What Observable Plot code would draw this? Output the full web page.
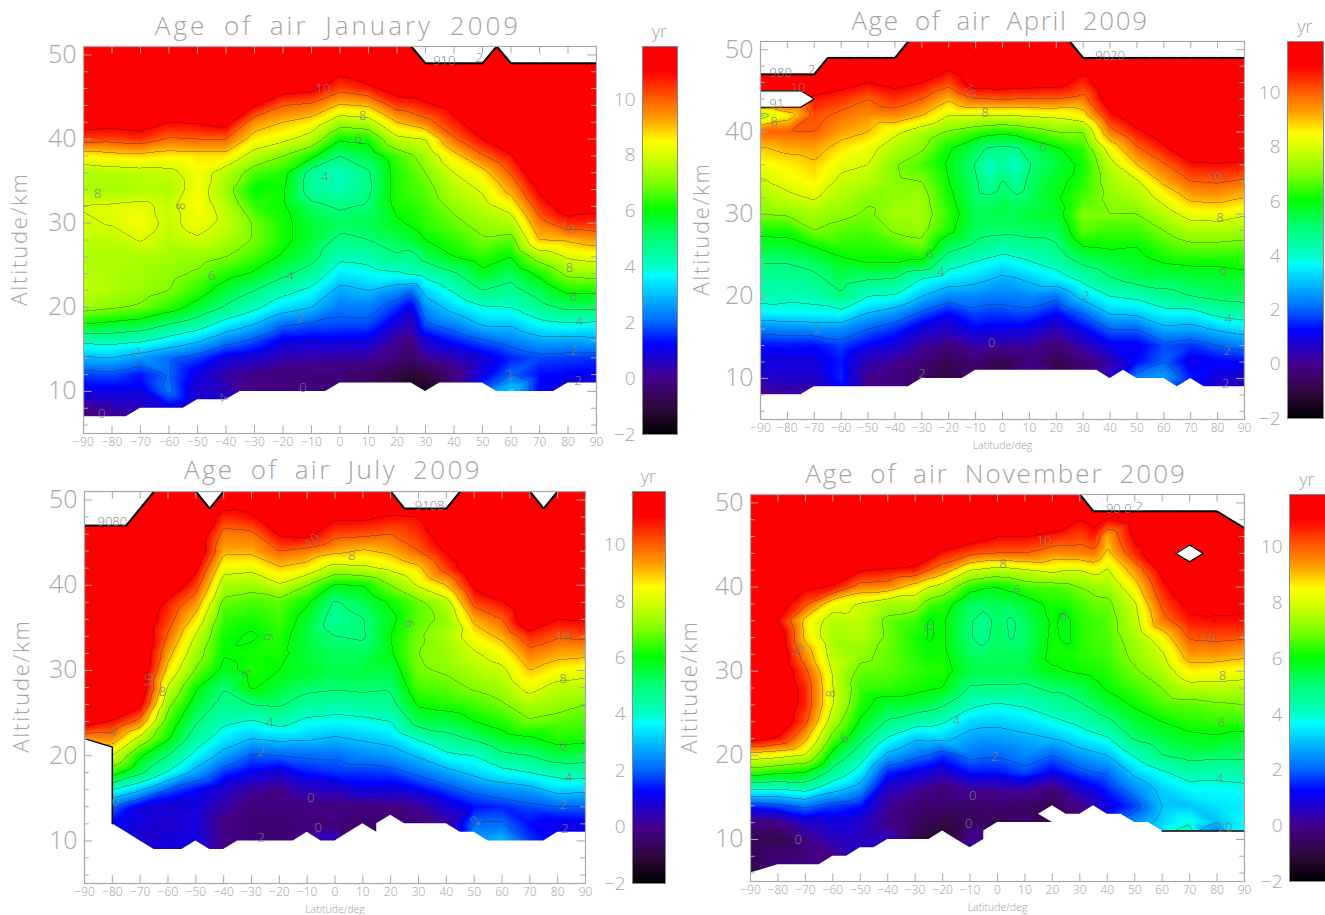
<!DOCTYPE html>
<html><head><meta charset="utf-8">
<script src="https://cdn.jsdelivr.net/npm/d3@7"></script>
<script src="https://cdn.jsdelivr.net/npm/@observablehq/plot@0.6"></script>
<style>
html,body{margin:0;padding:0;background:#fff;}
#page{position:relative;width:1325px;height:915px;overflow:hidden;}
.chart{position:absolute;}
.title{position:absolute;font-family:"Open Sans",sans-serif;font-weight:300;color:#a4a4a4;font-size:26px;word-spacing:7px;white-space:nowrap;transform:translateX(-50%);line-height:30px;}
</style></head><body><div id="page"></div>
<script>
const latitudes=[-90,-80,-70,-60,-50,-40,-30,-20,-10,0,10,20,30,40,50,60,70,80,90];
const altitudes=[50,48,46,44,42,40,38,36,34,32,30,28,26,24,22,20,18,16,14,12,10,8,6];
const lats5=[-90,-85,-80,-75,-70,-65,-60,-55,-50,-45,-40,-35,-30,-25,-20,-15,-10,-5,0,5,10,15,20,25,30,35,40,45,50,55,60,65,70,75,80,85,90];
const latTicks=[-90,-80,-70,-60,-50,-40,-30,-20,-10,0,10,20,30,40,50,60,70,80,90];
const altLabels=[10,20,30,40,50];
const altMinor=[6,8,12,14,16,18,22,24,26,28,32,34,36,38,42,44,46,48];
const barTicks=[-2,0,2,4,6,8,10];
const colorDomain=[-2,-1,0,1.25,2,3.7,4,5.1,6.05,7,8,8.5,9.3,10,11,11.9];
const colorRange=["#000000","#30083f","#46008c","#0000ff","#0064ff","#00ffff","#00ffc8","#00ff70","#00ff00","#80ff00","#d8ff00","#ffff00","#ffa000","#ff6000","#ff0000","#ff0000"];
const contourLevels=[-1,0,1,2,3,4,5,6,7,8,9,10,11];

const janAge=[
[12,12,12,12,11.5,10.4,8.5,7.5,7.5,8.05,7.9,7.7,7.5,7.65,7.75,7.3,6,4.2,2.9,1.7,1,0,-0.5],
[12,12,12,12,11.4,10.3,8.7,7.6,7.4,8.1,8.05,7.7,7.5,7.5,7.5,7.1,5.8,4.3,3,1.8,1.1,0.3,0],
[12,12,12,12,11.6,10.5,8.8,7.7,7.55,8.2,8.4,8.05,7.5,7.4,7.3,6.9,5.6,4.1,2.6,1.4,1,0.5,0],
[12,12,12,12,11,9.9,8.6,7.8,7.5,7.8,7.8,7.6,7.4,7.2,7,6.4,5,3.6,2.1,2.05,2.2,1,0.5],
[12,12,12,12,11.1,10,8.7,8.4,8.4,8.5,8.3,7.9,7.3,6.9,6.4,5.7,4.5,3.1,1.7,1,0.7,0.5,0.5],
[12,12,12,12,11.4,10,8.7,7.6,7.3,7.6,7.8,7.5,7,6.3,5.6,4.9,3.6,2.3,1,0.3,0.5,1,1],
[12,12,12,11.1,9.5,8.6,7.6,6.6,6,6.4,6.9,6.9,6.5,5.9,5,4.2,3,1.8,0.8,0,-0.2,0,0],
[12,12,11.5,10,9,8.2,7,6.3,6.1,6.1,6.2,6.2,5.9,5.2,4.3,3.4,2.1,1.1,0.4,-0.2,-0.2,0,0],
[12,12,11.3,9.8,8.6,7.6,6.2,4.6,4.6,5.2,5.6,5.6,5.3,4.6,3.8,3,1.9,1,0.3,-0.3,-0.2,0,0],
[12,11.2,10.3,8.9,7.4,6.1,5,4.1,4.3,4.9,5.3,4.8,4.2,3.5,2.75,2.25,1.8,1.1,0.2,-0.3,-0.4,0,0],
[12,12,10.7,9.1,7.6,6.2,5.5,4.9,4.85,5.1,5.4,5,4.3,3.7,3,2.3,1.8,1,0.2,-0.5,-0.6,0,0],
[12,12,11.5,10.4,9,7.8,6.5,6.3,6.3,6.2,5.9,5.4,4.9,3.9,2.5,1.6,0.85,0.1,-0.2,-0.9,-1,0,0],
[12,12,11.7,10.8,9.7,8,7.4,7,6.7,6.5,6.4,6,5.3,4.3,3.3,2.5,1.9,0.8,0.1,-1,-1.5,0,0],
[12,12,12,11.4,10.7,9.9,8.7,8,7.6,7.2,6.8,6.4,6,4.9,4.1,3.3,2.4,1.4,0.5,-0.2,0,0,0],
[12,12,12,12,11.8,11,9.9,8.7,8.1,7.7,7.3,6.9,6.4,5.8,5,3.9,3.1,1.9,0.9,1,2,2,2],
[12,12,12,12,12,12,10.9,10.1,9.3,8.4,7.5,6.7,6,5.3,4.7,4,3.1,2.3,1.5,2,3.4,3.4,3.4],
[12,12,12,12,12,12,12,12,11.2,10.5,9.7,9,7.4,6.2,5.4,4.7,3.7,2.7,1.8,1.3,1.2,1,1],
[12,12,12,12,12,12,12,12,12,11.6,10.6,9.1,8.1,7.2,6.2,5.2,3.9,2.7,1.7,1.2,0.5,0,0],
[12,12,12,12,12,12,12,12,12,11.3,10.6,9.4,8.3,7.3,6.2,5.2,3.8,2.8,1.6,1.2,1,1,1]];
const janExtraLat=[25];
const janExtra=[[12,12,11.6,10.5,9.3,7.9,6.9,6.6,6.5,6.3,6.1,5.6,4.7,4.1,2.2,1.05,0.5,-0.1,-0.5,-1.2,-1.5,0,0]];
const aprAge=[
[12,12,11.8,11,7.5,10,8.9,8.4,7.9,7.4,7,6.2,5.6,5,4.6,4.3,3.6,2.3,1.3,0.9,0.6,0,-0.5],
[12,12,11.7,11,8.5,10,9.2,8.6,8.3,7.8,7.1,6.2,5.7,5,4.6,4.2,3.7,2.4,1.4,0.9,0.7,0.2,0],
[12,12,11.8,10.8,10.2,10,9.3,8.9,8.6,8.1,7.4,7,6,5.2,4.8,4.3,3.7,2.5,1.3,0.9,0.7,0,0],
[12,12,11.4,10.5,9.8,9.3,8.7,8.2,7.8,7.5,7.2,6.7,6.3,5.8,5.3,4.9,3.8,2.5,1.7,1.4,1.5,1,1],
[12,12,11,10,9.5,9,8.3,8,7.6,7.1,6.9,6.6,6.3,6,5,4,3,2,1.2,0.4,0,0,0],
[12,12,11.3,10.5,9.6,8.2,7.5,7.05,7.1,7.2,7.4,7.1,6.5,6,4.9,3.9,2.6,1.6,0.9,0.1,-0.2,0,0],
[12,12,11,10,9,7.5,7.1,6.6,7,7.3,7.4,7.2,6.8,5.8,3.9,3,1.9,0.9,0.2,-0.3,-0.5,0,0],
[12,11.2,10.3,9.1,8,6.9,6.1,5.9,6,6.2,6.4,6.2,5.3,4.3,3.4,2.4,1.3,0.7,-0.1,-0.7,-1,0,0],
[12,12,11.6,10,8,6.5,5.3,4.95,5.1,5.2,5.4,5.3,4.8,3.9,3.2,2.4,1.8,1.2,0.3,-0.4,-0.3,0,0],
[12,12,11.6,10.1,8,6.2,4.85,4.6,5.05,5.3,5.4,5.2,4.4,3.5,2.8,2.3,1.7,1.1,0.2,-0.8,-1,0,0],
[12,12,11.5,10,8.1,6.6,5.3,4.95,5.2,5.3,5.6,5.3,4.6,3.9,3.1,2.4,1.8,1,0.2,-0.2,0.8,0,0],
[12,12,11.4,10,8.2,7,5.9,5.5,5.8,5.9,5.7,5.3,4.9,4.3,3.5,2.2,1.3,0.5,-0.2,-0.8,-0.9,0,0],
[12,11.4,10.6,9.7,8.6,7,6.4,6.2,6.3,6.6,7,6.7,6,5.1,4.2,3.3,2.1,1.2,0.4,-0.3,-0.4,0,0],
[12,12,12,11.6,10.8,9.7,8.4,7.7,7.4,7.2,7,6.5,6.1,5.5,4.9,4,3.1,2,1.1,0.4,0.6,1,1],
[12,12,12,12,11.7,10.8,9.9,9,7.9,7.5,7,6.5,6,5.7,5.3,4.2,3.2,2,1.1,1.3,2.4,2,2],
[12,12,12,12,12,11.6,10.8,9.9,9.2,8.3,7.6,7,6.5,6,5.3,4.7,3.7,2.8,1.8,2,2.7,2,2],
[12,12,12,12,12,12,12,10.8,10,9.2,8.3,7.5,6.8,6.1,5.5,5,3.7,2.7,1.6,1,1.4,1,1],
[12,12,12,12,12,12,12,10.9,10.1,9.3,8.4,7.5,6.8,6.1,5.6,5.2,4.3,3.1,2,1.2,0.9,0.5,0.5],
[12,12,12,12,12,12,12,10.8,9.9,9,8.1,7.4,6.7,6.2,5.7,5.3,4.5,3.4,2.3,1.3,0.7,0.5,0.5]];
const aprExtraLat=[-5,5];
const aprExtra=[
[12,12,11.6,10,8,6.3,4.9,4,4.5,5.1,5.4,5.2,4.6,3.7,3,2.3,1.7,1.1,0.3,-0.6,-0.7,0,0],
[12,12,11.5,10,8,6.3,4.9,4,4.5,5.1,5.4,5.2,4.5,3.7,2.9,2.3,1.8,1.1,0.2,-0.5,0,0,0]];
const julAge=[
[12,12,12,12,12,12,12,12,12,12,12,12,12,11.5,9.5,8,6,4,2,1,1,1,1],
[12,12,12,12,12,12,12,12,12,12,12,12,12,10.9,9.5,8,6.4,4,2,1.2,1,1,1],
[12,12,12,12,12,12,12,12,12,12,12,12,11.3,9.7,7.7,6.1,5.2,3.1,1,0.9,0.7,0.6,0.6],
[12,12,12,12,12,12,10.8,10.4,9.9,9.3,8.7,7.9,7.2,6.6,6.1,5,3.9,1.9,0.8,0.7,0.9,0.8,0.8],
[12,12,12,12,11.2,10.4,9.5,8.7,7.9,7.4,6.9,6.1,5.6,5.1,4.5,3.7,2.7,1.3,0.9,0.9,0.9,0.8,0.8],
[11.7,10.6,9.7,9.2,8.3,7.5,6.8,6.4,6.2,6.05,5.8,5.05,4.7,4.2,3.5,2.7,1.6,0.7,0.3,-0.1,0,0,0],
[11.5,10.9,9.8,9.2,8.2,7.3,6.6,6.2,5.9,6.2,6.2,6.1,5,3.9,3,1.9,1.1,0.2,-0.2,-0.3,-0.3,0,0],
[12,12,11.1,10,8.9,7.9,6.7,6.5,6.3,6.2,6,5.6,5.1,4.3,3.2,2,0.8,0,-0.2,-0.3,-0.4,0,0],
[12,12,11.3,9.7,8.6,7,6.1,5.7,5.5,5.6,5.7,5.2,4.6,3.8,3.1,2.1,1.4,0.5,-0.1,-0.2,0,0,0],
[12,11.2,10.3,9.2,7.6,5.9,4.9,4.6,5,5.3,5.4,5.1,4.4,3.7,2.9,2.1,1.6,0.6,-0.1,-0.2,0.7,0,0],
[12,11.2,10.2,8.9,7.8,6,5.4,4.95,4.9,5.3,5.5,5.2,4.5,3.8,3.1,2.4,1.6,1,-0.1,-0.4,-1,0,0],
[11.8,10.9,10,9.2,8.2,7,6.1,5.8,6,5.9,5.5,5.1,4.7,4,3.3,2.6,1.7,0.9,-0.1,-0.4,-0.6,0,0],
[12,11,10.5,10,8.8,8.1,6.8,6.7,6.9,7,6.9,6.6,6.1,5.4,4.1,3.1,2.2,1.2,0.1,-0.3,-0.6,0,0],
[12,12,11.7,11.1,10.4,9,7.6,7.2,7.5,7.3,7.1,6.7,6.3,5.5,4.7,3.8,2.7,1.7,0.8,0.1,0,0,0],
[12,12,12,12,12,11.2,10.3,9.2,8.5,7.9,7.5,7.1,6.5,6,5.1,4,3.2,2.2,1.3,2.1,2.6,2,2],
[12,12,12,12,12,12,10.9,10,9.2,8.4,7.8,7.4,6.9,6.3,5.7,4.8,3.7,2.5,1.5,2.1,3,2,2],
[12,12,12,12,12,12,12,12,10.6,9.7,9,8.3,7.5,6.9,5.9,5,4,2.7,1.8,1.3,1.7,1,1],
[12,12,12,12,12,12,12,11,10.1,9.3,8.5,7.7,7.3,6.7,6.3,5.5,4.3,3.3,2,1,1,1,1],
[12,12,12,12,12,12,12,11.1,10.2,9.2,8.3,7.6,7,6.6,6.2,5.4,4.4,3.2,2,1.1,0.9,1,1]];
const novAge=[
[12,12,12,12,12,12,12,11.1,11.5,12,12,12,12,12,11.5,8.5,6.5,4,1.6,-0.1,-0.7,-0.7,-1],
[12,12,12,12,12,12,11.6,11,11.8,12,12,12,12,12,10.9,8.3,6.2,4,1.8,-0.1,-0.8,-0.3,-0.3],
[12,12,12,12,12,11.2,10.2,8.7,8.8,9.5,10.2,10.6,10.6,10.2,9.2,7.9,6,4.3,2.2,0.7,0,-0.2,-0.2],
[12,12,12,12,12,10.9,8.4,7.6,7.4,7.6,7.9,8,8,7.5,6.7,5.7,4.7,3.3,1.7,0.9,0.5,0,0],
[12,12,12,12,11.1,9.6,7.9,7.7,7.5,7.2,6.8,6.5,6.3,5.9,5.3,4.5,3.6,2.6,1.4,0.7,0.6,0.5,0.5],
[12,12,12,12,10.9,9.5,7.4,6.8,6.9,6.8,6.7,6.4,5.6,4.9,3.9,2.8,1.5,0.6,0.2,0,0.5,0.5,0.5],
[12,12,12,12,10.7,8.6,7.4,6.5,6.2,6.3,6.4,6.2,5.6,4.4,3.1,2.2,1.1,0.2,-0.3,-0.5,-1,0,0],
[12,12,12,10.8,9.5,7.6,6.4,6.1,6.1,6.15,6.3,6,5.1,4.1,3.2,1.6,0.7,-0.2,-0.4,-0.9,-1.5,0,0],
[12,12,11.6,10.2,8,6.3,5.3,5.05,5.05,5.3,5.5,4.9,4.2,3.3,2.7,2.2,1.4,0.2,-0.5,-0.5,0.2,0,0],
[12,12,11,10,7.6,6,5.4,5.2,5.25,5.3,5.4,4.9,3.9,3.2,2.6,2.1,1.4,0.2,-0.3,-0.8,-0.6,0,0],
[12,12,11,10,7.9,6.5,5.6,5.3,5.2,5.3,5.5,4.8,4.1,3.4,2.8,2.4,1.8,0.3,-0.5,-0.3,0,0,0],
[12,12,10.7,9.5,8.2,6.6,6.2,6.1,6.15,6.2,5.9,5.2,4.5,3.8,3,2,1.2,-0.2,-0.8,-1,0,0,0],
[11,11,10.3,9.6,8,7,6.5,6.3,6.3,6.3,6.1,5.4,4.9,4.2,3.5,2.6,1.8,0.8,0,-0.4,0,0,0],
[12,10.9,9.2,8.8,7.9,7.3,6.8,6.6,6.6,6.5,6.3,6.1,5.6,4.8,3.9,3,2.1,1.5,1,0.5,0,0,0],
[12,11.5,11.2,10.6,9.4,8.6,7.9,7.7,7.4,7.2,6.9,6.5,6.1,5.6,5.1,4.1,3.2,2.4,1.7,2.5,2.5,2,2],
[12,12,12,12,11.3,10.7,10.2,9.7,8.5,7.9,7.5,7,6.6,6,5.5,5,3.9,3.2,3,3.3,3.5,3,3],
[12,12,12,12,12,12,11.3,10.8,10.1,9.4,8.6,7.7,6.7,6.3,5.8,5.3,4.4,3.7,3.1,3.9,4.8,4,4],
[12,12,12,12,12,12,11.2,10.9,10.2,9.4,8.5,7.7,6.9,6.4,5.9,5.2,4.3,3.7,3.4,3,1.5,1,1],
[12,12,12,12,12,12,11.1,10.9,10.1,9.2,8.4,7.6,7,6.4,5.7,5.2,4.4,3.8,3.5,3.7,3.9,3,3]];
const novExtraLat=[-25,-5,5,25,35];
const novExtra=[
[12,12,12,11.5,10,8,6.6,5.95,5.95,6.1,6.3,6.1,5.4,4.3,3.2,2,0.9,0,-0.4,-0.7,-1.2,0,0],
[12,12,11.3,10,7.8,6.1,5.2,4.7,4.8,5.2,5.4,4.9,4,3.2,2.6,2.1,1.4,0.2,-0.4,-0.6,0,0,0],
[12,12,11,10,7.7,6.2,5.4,4.9,4.95,5.3,5.4,4.9,4,3.3,2.7,2.2,1.6,0.3,-0.4,-0.6,0,0,0],
[12,11.5,10.5,9.6,8,6.7,6.2,5.85,5.85,6.2,6,5.2,4.7,4,3.2,2.3,1.5,0.3,-0.3,-0.7,0,0,0],
[12,11.3,10.7,9.8,8.3,7.2,6.8,6.5,6.5,6.4,6.2,5.8,5.2,4.5,3.7,2.8,2,1.1,0.4,0,0,0,0]];

const janFloor=[7,7,7,7,8,8,8,8,9,9,9,10,10,10,10,10,10,10,11,11,11,11,11,11,10,11,11,11,11,10,10,10,10,10,11,11,11];
const janCeil=[51,51,51,51,51,51,51,51,51,51,51,51,51,51,51,51,51,51,51,51,51,51,51,51,49,49,49,49,49,51,49,49,49,49,49,49,49];
const aprFloor=[8,8,8,8,9,9,9,9,9,9,9,9,10,10,10,10,11,11,11,11,11,11,11,11,11,11,10,11,10,10,10,9,10,9,9,9,9];
const aprCeil=[47,47,47,47,47,49,49,49,49,49,49,51,51,51,51,51,51,51,51,51,51,51,51,51,49,49,49,49,49,49,49,49,49,49,49,49,49];
const julFloorLat=[-90,-85,-80,-80,-75,-70,-65,-60,-55,-50,-45,-40,-35,-30,-25,-20,-15,-10,-5,0,5,10,15,15,20,25,30,35,40,45,50,55,60,65,70,75,80,85,90];
const julFloor=[22,21.5,21,12,11,10,9,9,9,10,9,9,10,10,10,10,10,11,10,10,11,12,11,12,13,12,12,12,12,11,11,10,10,10,10,10,11,11,11];
const julCeil=[47,47,47,47,49,51,51,51,51,49,51,51,51,51,51,51,51,51,51,51,51,51,51,49,49,49,49,51,51,51,51,51,51,49,51,51,51];
const novFloorLat=[-90,-85,-80,-75,-70,-65,-60,-55,-50,-45,-40,-35,-30,-25,-20,-15,-10,-5,-5,0,5,10,15,20,15,20,25,30,35,40,45,50,55,60,65,70,75,80,85,90];
const novFloor=[6,6.5,7,7,7,7,8,8,9,9,10,10,10,10,11,10,9,10,11,12,12,12,12,12,13,14,13,13,14,13,13,12,12,11,11,11,11,11,11,11];
const novCeil=[51,51,51,51,51,51,51,51,51,51,51,51,51,51,51,51,51,51,51,51,51,51,51,51,51,49,49,49,49,49,49,49,49,49,49,48,47];
const aprHoleLat=[-90,-75,-70], aprHoleLo=[43,43,44], aprHoleHi=[45,45,44];
const novHoleLat=[65,70,75], novHoleLo=[44,43,44], novHoleHi=[44,45,44];
const julWallLat=[-90,-85,-80,-80], julWallAlt=[22,21.5,21,12];
const novWallLat=[60,90], novWallAlt=[11,11];

// contour labels: latitude, altitude, text, rotation
const janLabels=[[-6,46,"10",0],[8,42.8,"8",0],[6.4,40,"6",0],[-5.3,35.5,"4",0],[-85,33.5,"8",0],[-56,32,"8",-90],[-45,23.7,"6",0],[-17.5,23.7,"4",0],[-14,18.8,"2",0],[-71,14.6,"2",0],[59.5,12,"2",-30],[-83.6,7.3,"0",0],[82,14.8,"2",0],[83.6,11.3,"2",0],[80,29.4,"10",20],[80.5,24.7,"8",0],[82,21.3,"6",0],[84,18.3,"4",0],[-13,10.4,"0",0],[-41,9.2,"4",-45],[36.6,49.3,"910",0],[48.8,49.7,"2",0]];
const aprLabels=[[-12,45,"10",60],[-6.4,42.3,"8",0],[15,38.2,"6",0],[-27,25.2,"6",0],[-23,23,"4",0],[31,20,"2",0],[-69,15.9,"2",0],[-4,14.3,"0",0],[-30,10.6,"2",0],[79,34.4,"10",-10],[81,29.5,"8",0],[82,23.1,"6",0],[84,17.2,"4",0],[83.6,13.4,"2",0],[83,9.3,"2",0],[-76,45.4,"10",0],[-82.5,47.2,"980",0],[-71,47.6,"2",0],[-84,43.4,"91",0],[-85,41.2,"8",0],[40,49.3,"9020",0]];
const julLabels=[[-8,45.2,"10",-45],[6,43.4,"8",0],[26.5,35.5,"6",90],[-24,33.9,"6",90],[-32,29.6,"6",60],[-23.4,23.8,"4",0],[-26.5,20.4,"2",0],[-8.6,15,"0",0],[-6,11.5,"0",0],[-26.5,10.4,"2",0],[-66.5,28.8,"10",-90],[-62,27.5,"8",0],[82,34,"10",0],[82,29,"8",0],[82,21.1,"6",0],[84,17.4,"4",0],[82,14.2,"2",0],[50.6,12.4,"2",-60],[82.6,11.4,"2",0],[-80,22.8,"4",0],[-79,14.6,"0",0],[-80,47.4,"9080",0],[34,49.3,"9108",0]];
const novLabels=[[17,45.5,"10",0],[2,42.8,"8",0],[7,39.7,"6",0],[24,36.6,"6",0],[-25,35.3,"0",90],[-72.6,32.3,"10",-70],[-60.6,27.3,"8",-90],[-55.7,22,"6",-30],[-15,24.1,"4",0],[-1,19.8,"2",0],[-9,15.2,"0",0],[-72.6,10,"0",0],[-10.5,11.9,"0",0],[77,33.8,"10",0],[82,29.4,"8",0],[81.6,23.9,"6",0],[81,17.2,"4",0],[83,11.4,"20",0],[42.2,49.3,"90",0],[47.5,49.3,"0",0],[51.6,49.5,"2",0]];

const panels=[
 {title:"Age of air January 2009",ls:3,tx:338,ty:10,xl:83,xr:596,yt:46,yb:433,bl:642,br:677,bt:46,bb:434,age:janAge,exLat:janExtraLat,ex:janExtra,flat:lats5,floor:janFloor,ceil:janCeil,labels:janLabels,xlab:false,yx:18},
 {title:"Age of air April 2009",ls:1.6,tx:1000,ty:5,xl:760,xr:1244,yt:41,yb:419,bl:1287,br:1323,bt:41,bb:418,age:aprAge,exLat:aprExtraLat,ex:aprExtra,flat:lats5,floor:aprFloor,ceil:aprCeil,labels:aprLabels,xlab:true,yx:700,hole:[aprHoleLat,aprHoleLo,aprHoleHi]},
 {title:"Age of air July 2009",ls:2.4,tx:333,ty:454,xl:84,xr:585,yt:491,yb:883,bl:632,br:665,bt:491,bb:883,age:julAge,exLat:[],ex:[],flat:julFloorLat,floor:julFloor,ceil:julCeil,labels:julLabels,xlab:true,yx:20,wall:[julWallLat,julWallAlt]},
 {title:"Age of air November 2009",ls:2,tx:996,ty:458,xl:750,xr:1244,yt:494,yb:881,bl:1289,br:1325,bt:494,bb:881,age:novAge,exLat:novExtraLat,ex:novExtra,flat:novFloorLat,floor:novFloor,ceil:novCeil,labels:novLabels,xlab:true,yx:688,hole:[novHoleLat,novHoleLo,novHoleHi],wall:[novWallLat,novWallAlt]}
];

const page=document.getElementById("page");
const grey="#a8a8a8";
const font='"Open Sans",sans-serif';
const color={type:"linear",domain:colorDomain,range:colorRange,clamp:true};
const svgStyle={background:"transparent",overflow:"visible",maxWidth:"none",fontWeight:300};
function place(el,x,y){const d=document.createElement("div");d.className="chart";d.style.left=x+"px";d.style.top=y+"px";d.appendChild(el);page.appendChild(d);}

for(const p of panels){
 const pts=latitudes.flatMap((lat,i)=>altitudes.map((alt,j)=>({lat,alt,age:p.age[i][j]})))
  .concat(p.exLat.flatMap((lat,i)=>altitudes.map((alt,j)=>({lat,alt,age:p.ex[i][j]}))));
 const floorRows=p.flat.map((lat,i)=>({lat,lo:5,hi:p.floor[i]}));
 const ceilRows=lats5.map((lat,i)=>({lat,lo:p.ceil[i],hi:51}));
 const ceilLinks=d3.pairs(ceilRows).filter(([a,b])=>a.lo<51||b.lo<51).map(([a,b])=>({x1:a.lat,y1:a.lo,x2:b.lat,y2:b.lo}));
 const marks=[
  Plot.raster(pts,{x:"lat",y:"alt",fill:"age",interpolate:"barycentric",pixelSize:1}),
  Plot.contour(pts,{x:"lat",y:"alt",value:"age",interpolate:"barycentric",thresholds:contourLevels,stroke:"#222",strokeWidth:0.55,strokeOpacity:0.6,fill:"none",pixelSize:1,blur:1,smooth:false}),
  Plot.areaY(floorRows,{x:"lat",y1:"lo",y2:"hi",fill:"white"}),
  Plot.areaY(ceilRows,{x:"lat",y1:"lo",y2:"hi",fill:"white"}),
  Plot.link(ceilLinks,{x1:"x1",y1:"y1",x2:"x2",y2:"y2",stroke:"#000",strokeWidth:2})
 ];
 if(p.hole){
  const r=p.hole[0].map((lat,i)=>({lat,lo:p.hole[1][i],hi:p.hole[2][i]}));
  marks.push(Plot.areaY(r,{x:"lat",y1:"lo",y2:"hi",fill:"white"}));
  marks.push(Plot.lineY(r,{x:"lat",y:"lo",stroke:"#000",strokeWidth:1.2}));
  marks.push(Plot.lineY(r,{x:"lat",y:"hi",stroke:"#000",strokeWidth:1.2}));
 }
 if(p.wall){
  marks.push(Plot.line(p.wall[0].map((lat,i)=>({lat,alt:p.wall[1][i]})),{x:"lat",y:"alt",stroke:"#000",strokeWidth:1.5}));
 }
 marks.push(
  Plot.text(p.labels,{x:d=>d[0],y:d=>d[1],text:d=>d[2],rotate:d=>d[3],fontSize:13,fill:"#808080",fontFamily:font}),
  Plot.ruleX(latTicks,{y1:5,y2:5.9,stroke:grey,strokeWidth:1}),
  Plot.ruleX(latTicks,{y1:50.1,y2:51,stroke:grey,strokeWidth:1}),
  Plot.ruleY(altLabels,{x1:-90,x2:-87,stroke:grey,strokeWidth:1}),
  Plot.ruleY(altLabels,{x1:87,x2:90,stroke:grey,strokeWidth:1}),
  Plot.ruleY(altMinor,{x1:-90,x2:-88.3,stroke:grey,strokeWidth:1}),
  Plot.ruleY(altMinor,{x1:88.3,x2:90,stroke:grey,strokeWidth:1}),
  Plot.frame({stroke:grey,strokeWidth:1.2}),
  Plot.axisX({ticks:latTicks,tickSize:0,tickPadding:4,fontSize:12,label:null,fill:"#a0a0a0",fontFamily:font,tickFormat:d=>String(d).replace("-","−")}),
  Plot.axisY({ticks:altLabels,tickSize:0,tickPadding:7,fontSize:25,label:null,fill:grey,fontFamily:font})
 );
 const left=p.xl-70, top=p.yt-6;
 if(p.xlab) marks.push(Plot.text(["Latitude/deg"],{frameAnchor:"bottom",lineAnchor:"top",dy:22,fontSize:10.5,fill:"#a0a0a0",fontFamily:font}));
 const chart=Plot.plot({
  width:p.xr-p.xl+70+16,height:p.yb-p.yt+6+36,
  marginLeft:70,marginRight:16,marginTop:6,marginBottom:36,
  x:{domain:[-90,90]},y:{domain:[5,51]},color,
  style:svgStyle,
  marks
 });
 place(chart,left,top);

 const bar=Plot.plot({
  width:p.br-p.bl+46,height:p.bb-p.bt+8,
  marginLeft:46,marginRight:0,marginTop:4,marginBottom:4,
  x:{domain:[0,1],axis:null},y:{domain:[-2,11.9]},color,
  style:svgStyle,
  marks:[
   Plot.raster({fill:(x,y)=>y,x1:0,x2:1,y1:-2,y2:11.9,pixelSize:1}),
   Plot.frame({stroke:"#888",strokeWidth:1}),
   Plot.axisY({ticks:barTicks,tickSize:0,tickPadding:7,fontSize:19,label:null,fill:grey,fontFamily:font})
  ]
 });
 place(bar,p.bl-46,p.bt-4);

 const t=document.createElement("div");t.className="title";t.textContent=p.title;t.style.left=p.tx+"px";t.style.top=p.ty+"px";t.style.letterSpacing=p.ls+"px";page.appendChild(t);
 const yr=document.createElement("div");yr.className="title";yr.textContent="yr";yr.style.cssText=`left:${(p.bl+p.br)/2}px;top:${p.bt-30}px;font-size:18px;letter-spacing:0;`;page.appendChild(yr);
 const yl=document.createElement("div");yl.className="title";yl.textContent="Altitude/km";yl.style.cssText=`left:${p.yx}px;top:${(p.yt+p.yb)/2-16}px;font-size:22px;letter-spacing:1.8px;transform:translateX(-50%) rotate(-90deg);`;page.appendChild(yl);
}
</script></body></html>
